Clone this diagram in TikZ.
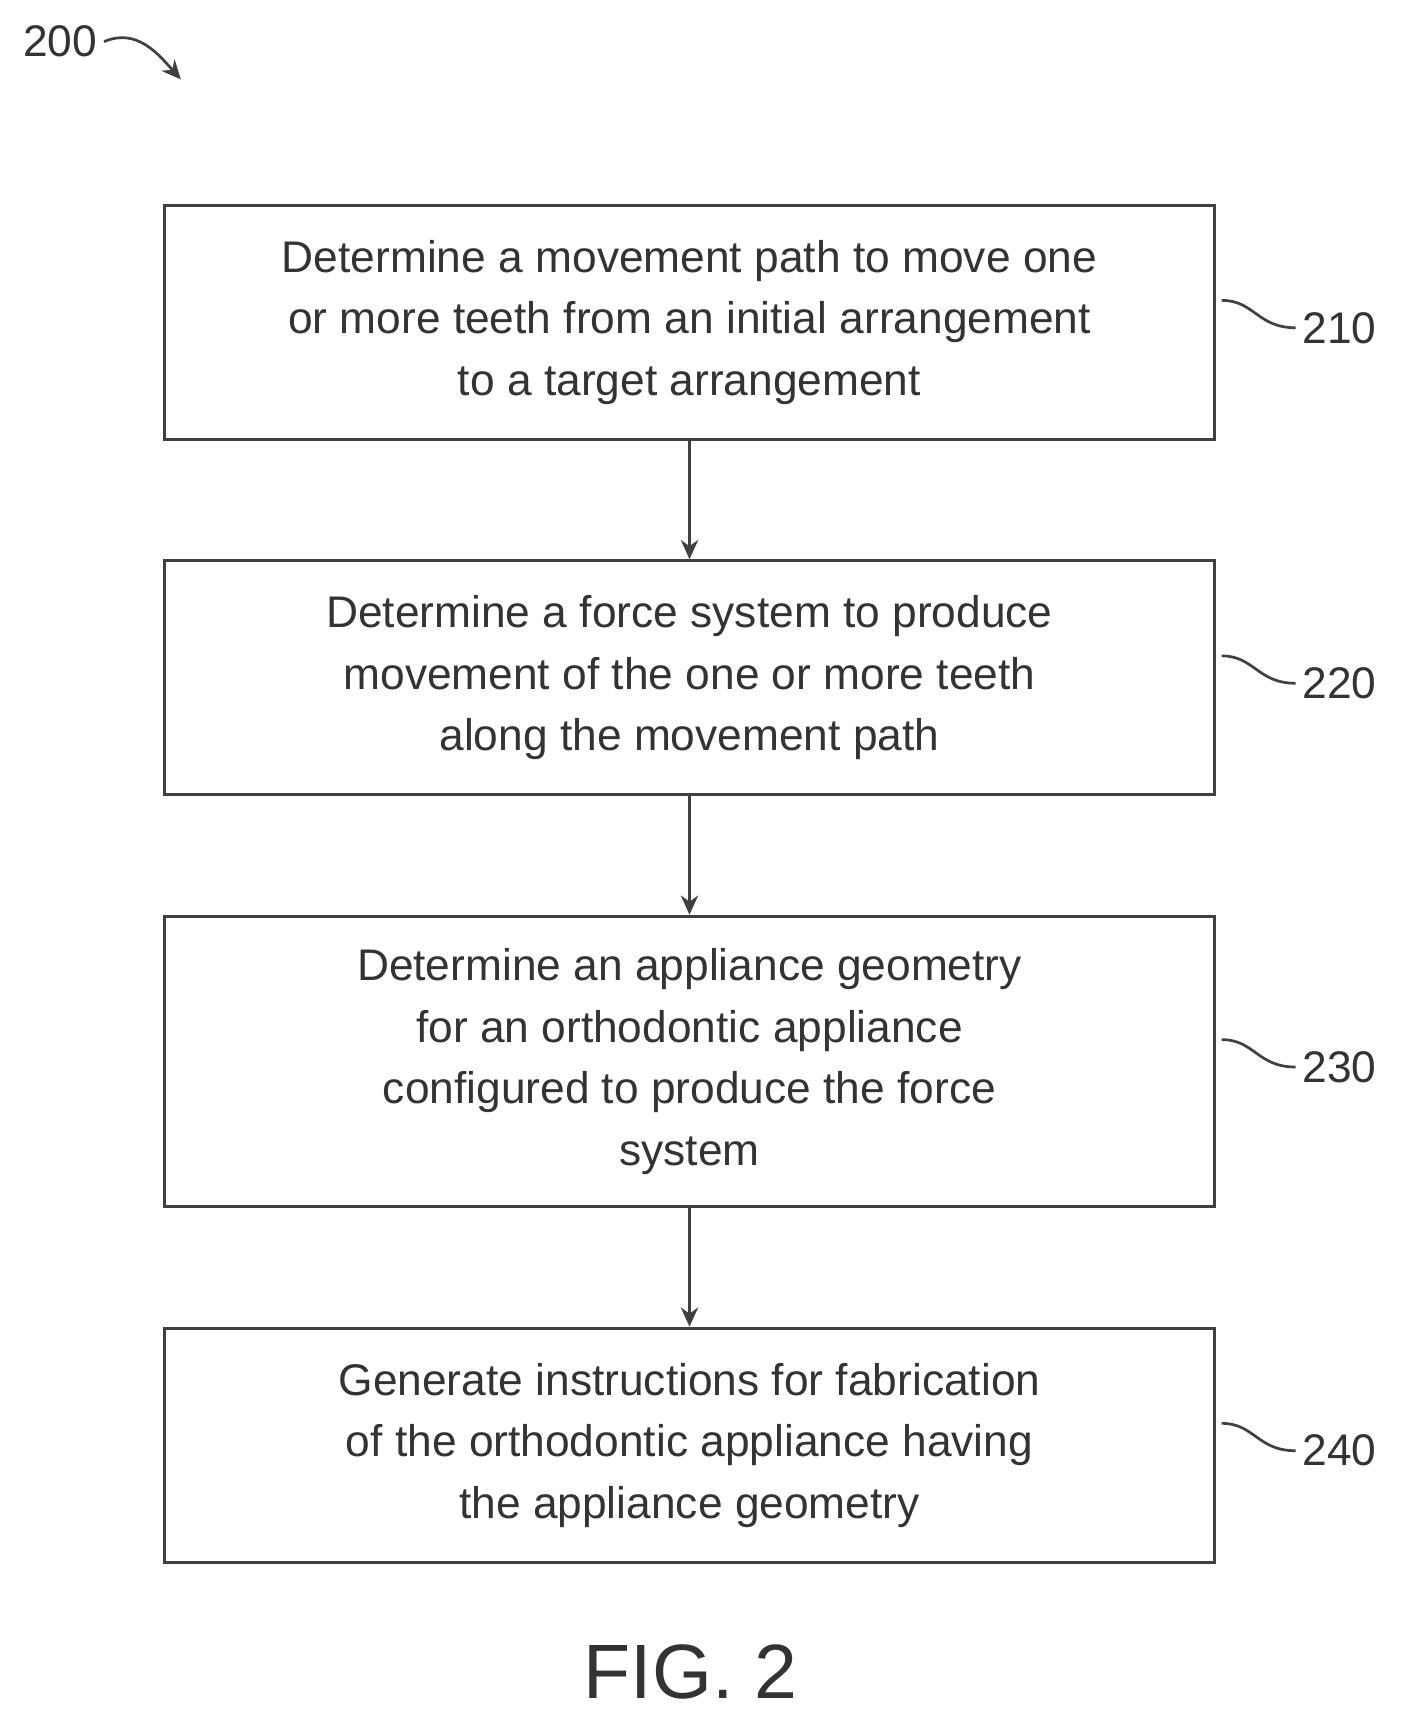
\documentclass[tikz,border=0pt]{standalone}
\usepackage{fontspec}
\setmainfont{Liberation Sans}
\usetikzlibrary{positioning,arrows.meta}
\tikzset{
  stepbox/.style={draw=black!75, line width=1.6pt, minimum width=19.16cm, minimum height=4.27cm,
    align=center, font=\fontsize{23}{32}\selectfont, text=black!80},
  flow/.style={draw=black!75, line width=1.4pt, -{Stealth[length=10pt,width=9pt]}},
  tag/.style={font=\fontsize{23}{28}\selectfont, text=black!80, anchor=west},
  lead/.style={draw=black!75, line width=1.4pt}
}
\begin{document}
\begin{tikzpicture}
  \useasboundingbox (0,0) rectangle (25.6,-31.4);
  %steps
  \node[stepbox] (s210) at (12.58,-5.88) {Determine a movement path to move one\\or more teeth from an initial arrangement\\to a target arrangement};
  \node[stepbox, below=2.16cm of s210] (s220) {Determine a force system to produce\\movement of the one or more teeth\\along the movement path};
  \node[stepbox, below=2.16cm of s220, minimum height=5.3cm] (s230) {Determine an appliance geometry\\for an orthodontic appliance\\configured to produce the force\\system};
  \node[stepbox, below=2.16cm of s230] (s240) {Generate instructions for fabrication\\of the orthodontic appliance having\\the appliance geometry};
  %arrows
  \draw[flow] (s210) -- (s220);
  \draw[flow] (s220) -- (s230);
  \draw[flow] (s230) -- (s240);
  %reference numerals
  \foreach \s in {210,220,230,240}{
    \node[tag, right=1.45cm of s\s.east, yshift=-0.1cm] (n\s) {\s};
    \coordinate (c\s) at ([xshift=0.1cm, yshift=0.4cm]s\s.east);
    \draw[lead] (c\s) .. controls ([xshift=0.6cm]c\s) and ([xshift=-0.7cm]n\s.west) .. (n\s.west);
  }
  \node[font=\fontsize{23}{28}\selectfont, text=black!80] (n200) at (1.1,-0.76) {200};
  \coordinate (a200) at (3.3,-1.45);
  \draw[lead, -{Stealth[length=10pt,width=9pt]}] (n200.east) .. controls (2.5,-0.5) and (2.9,-1.0) .. (a200);
  \node[font=\fontsize{40}{44}\selectfont, text=black!80] (fig) at (12.6,-30.5) {FIG. 2};
\end{tikzpicture}
\end{document}
